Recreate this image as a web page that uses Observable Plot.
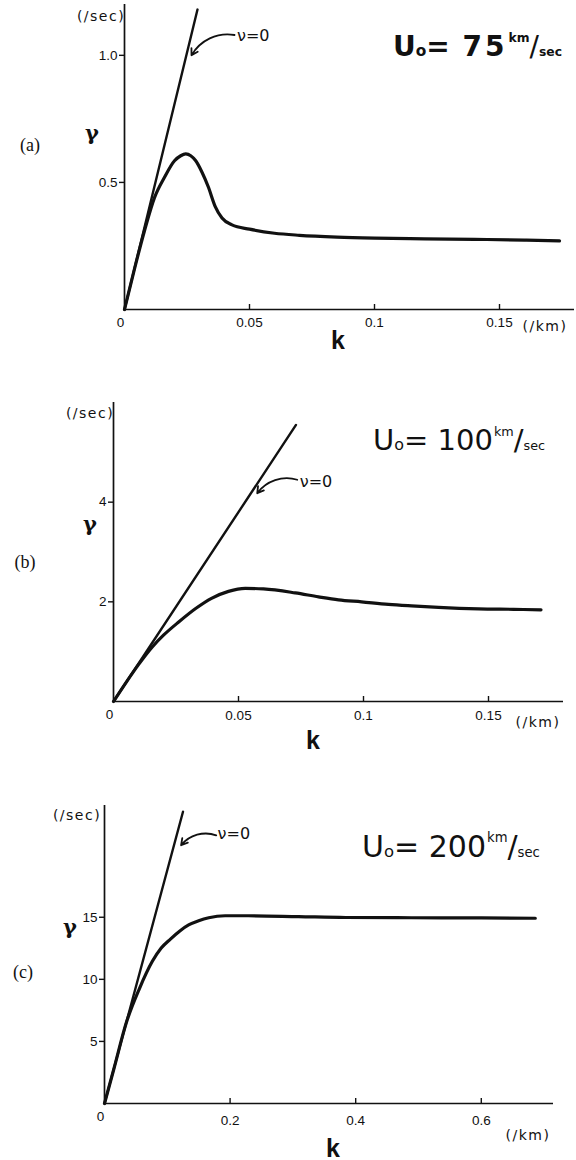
<!DOCTYPE html>
<html>
<head>
<meta charset="utf-8">
<script src="https://cdn.jsdelivr.net/npm/d3@7"></script>
<script src="https://cdn.jsdelivr.net/npm/@observablehq/plot@0.6"></script>
<style>
  html, body { margin: 0; padding: 0; background: #fff; }
  #fig { position: relative; width: 576px; height: 1160px; overflow: hidden; color: #111; }
  .panel { position: absolute; left: 0; }
  .lbl { position: absolute; white-space: nowrap; transform: translate(-50%, -50%); line-height: 1; }
  .ttl { position: absolute; white-space: nowrap; line-height: 1; font-family: "DejaVu Sans", sans-serif; }
</style>
</head>
<body>
<div id="fig"></div>
<script>
// ---------------- Panel (a): U0 = 75 km/sec ----------------
const kA = [0, 0.004, 0.008, 0.012, 0.016, 0.020, 0.0225, 0.0245, 0.0265, 0.0285, 0.031, 0.0335, 0.0363, 0.039, 0.043, 0.05, 0.06, 0.07, 0.085, 0.1, 0.12, 0.14, 0.16, 0.174];
const gammaA = [0, 0.16, 0.31, 0.44, 0.52, 0.585, 0.605, 0.612, 0.605, 0.585, 0.54, 0.483, 0.405, 0.36, 0.333, 0.316, 0.300, 0.292, 0.285, 0.281, 0.278, 0.276, 0.273, 0.27];
const nuZeroKA = [0, 0.0292];
const nuZeroGammaA = [0, 1.18];
const xTicksA = [0.05, 0.1, 0.15];
const xTickLabelsA = ["0.05", "0.1", "0.15"];
const yTicksA = [0.5, 1.0];
const yTickLabelsA = ["0.5", "1.0"];
const noteA = [{k1: 0.044, g1: 1.08, k2: 0.0268, g2: 1.0, tk: 0.045, tg: 1.075}];

// ---------------- Panel (b): U0 = 100 km/sec ----------------
const kB = [0, 0.005, 0.01, 0.0156, 0.02, 0.0262, 0.033, 0.0392, 0.046, 0.0527, 0.06, 0.0727, 0.082, 0.09, 0.0992, 0.11, 0.1192, 0.13, 0.146, 0.16, 0.171];
const gammaB = [0, 0.38, 0.74, 1.10, 1.33, 1.60, 1.87, 2.07, 2.21, 2.27, 2.26, 2.18, 2.10, 2.04, 2.00, 1.95, 1.92, 1.89, 1.86, 1.85, 1.84];
const nuZeroKB = [0, 0.073];
const nuZeroGammaB = [0, 5.55];
const xTicksB = [0.05, 0.1, 0.15];
const xTickLabelsB = ["0.05", "0.1", "0.15"];
const yTicksB = [2, 4];
const yTickLabelsB = ["2", "4"];
const noteB = [{k1: 0.0735, g1: 4.45, k2: 0.0575, g2: 4.18, tk: 0.0745, tg: 4.4}];

// ---------------- Panel (c): U0 = 200 km/sec ----------------
const kC = [0, 0.015, 0.0347, 0.0555, 0.0762, 0.09, 0.105, 0.12, 0.134, 0.15, 0.166, 0.192, 0.229, 0.309, 0.384, 0.489, 0.6, 0.686];
const gammaC = [0, 2.8, 6.5, 9.24, 11.45, 12.5, 13.24, 13.9, 14.38, 14.72, 14.96, 15.12, 15.12, 15.05, 14.98, 14.96, 14.95, 14.92];
const nuZeroKC = [0, 0.125];
const nuZeroGammaC = [0, 23.5];
const xTicksC = [0.2, 0.4, 0.6];
const xTickLabelsC = ["0.2", "0.4", "0.6"];
const yTicksC = [5, 10, 15];
const yTickLabelsC = ["5", "10", "15"];
const noteC = [{k1: 0.178, g1: 21.6, k2: 0.122, g2: 20.8, tk: 0.18, tg: 21.7}];

const fig = document.getElementById("fig");

function panel(cfg) {
  const innerH = cfg.height - cfg.mt - cfg.mb;
  const tickLen = cfg.yMax * 5 / innerH;
  const curve = cfg.k.map((k, i) => ({k, g: cfg.g[i]}));
  const nu = cfg.nuK.map((k, i) => ({k, g: cfg.nuG[i]}));
  const chart = Plot.plot({
    width: 576,
    height: cfg.height,
    marginLeft: cfg.ml, marginRight: cfg.mr, marginTop: cfg.mt, marginBottom: cfg.mb,
    x: {domain: [0, cfg.xMax]},
    y: {domain: [0, cfg.yMax]},
    style: {fontFamily: "'Liberation Sans', Arial, sans-serif", fontSize: "13px", color: "#111", background: "transparent", overflow: "visible"},
    marks: [
      Plot.axisY({ticks: cfg.yTicks, tickSize: 5, tickPadding: 2, fontSize: 13.5,
        tickFormat: (d) => cfg.yLabels[cfg.yTicks.indexOf(d)], label: null, strokeWidth: 1.4}),
      Plot.axisX({ticks: cfg.xTicks, tickSize: 0, tickPadding: cfg.xPad, fontSize: 13.5,
        tickFormat: (d) => cfg.xLabels[cfg.xTicks.indexOf(d)], label: null}),
      Plot.ruleX(cfg.xTicks, {x: (d) => d, y1: () => 0, y2: () => tickLen, strokeWidth: 1.4, stroke: "#111"}),
      Plot.ruleY([0], {strokeWidth: 1.7, stroke: "#111"}),
      Plot.ruleX([0], {strokeWidth: 1.7, stroke: "#111"}),
      Plot.text([{k: 0, g: 0}], {x: "k", y: "g", text: () => "0", dx: -4, dy: 13, fontSize: 13.5}),
      Plot.line(nu, {x: "k", y: "g", stroke: "#111", strokeWidth: 2.4}),
      Plot.line(curve, {x: "k", y: "g", curve: "monotone-x", stroke: "#111", strokeWidth: 3.2}),
      Plot.arrow(cfg.note, {x1: "k1", y1: "g1", x2: "k2", y2: "g2", bend: -35, headLength: 6, stroke: "#111", strokeWidth: 1.8}),
      Plot.text(cfg.note, {x: "tk", y: "tg", text: () => "ν=0", textAnchor: "start", fontSize: 16,
        fontFamily: "'DejaVu Sans', sans-serif"})
    ]
  });
  const wrap = document.createElement("div");
  wrap.className = "panel";
  wrap.style.top = cfg.top + "px";
  wrap.appendChild(chart);
  fig.appendChild(wrap);
}

function label(text, x, y, css) {
  const d = document.createElement("div");
  d.className = "lbl";
  d.textContent = text;
  d.style.left = x + "px";
  d.style.top = y + "px";
  d.style.cssText += css;
  fig.appendChild(d);
}

function title(left, baseline, fs, num, weight, ls) {
  const d = document.createElement("div");
  d.className = "ttl";
  d.style.left = left + "px";
  d.style.top = (baseline - 0.846 * fs) + "px";
  d.style.fontSize = fs + "px";
  d.style.fontWeight = weight;
  d.innerHTML =
    `U<span style="font-size:${fs * 0.55}px">o</span>=` +
    `<span style="letter-spacing:${ls}px"> ${num}</span>` +
    `<span style="font-size:${fs * 0.44}px;position:relative;top:${-fs * 0.5}px;margin-left:1px">km</span>` +
    `<span style="font-weight:normal">/</span>` +
    `<span style="font-size:${fs * 0.44}px">sec</span>`;
  fig.appendChild(d);
}

panel({top: 0, height: 355, ml: 124, mr: 2, mt: 4, mb: 46, xMax: 0.18, yMax: 1.2, xPad: 8,
  k: kA, g: gammaA, nuK: nuZeroKA, nuG: nuZeroGammaA,
  xTicks: xTicksA, xLabels: xTickLabelsA, yTicks: yTicksA, yLabels: yTickLabelsA, note: noteA});
panel({top: 355, height: 405, ml: 113, mr: 13, mt: 47, mb: 59, xMax: 0.18, yMax: 6, xPad: 9,
  k: kB, g: gammaB, nuK: nuZeroKB, nuG: nuZeroGammaB,
  xTicks: xTicksB, xLabels: xTickLabelsB, yTicks: yTicksB, yLabels: yTickLabelsB, note: noteB});
panel({top: 760, height: 400, ml: 104, mr: 23, mt: 45, mb: 57, xMax: 0.715, yMax: 24, xPad: 12,
  k: kC, g: gammaC, nuK: nuZeroKC, nuG: nuZeroGammaC,
  xTicks: xTicksC, xLabels: xTickLabelsC, yTicks: yTicksC, yLabels: yTickLabelsC, note: noteC});

const serif = "font-family:'Liberation Serif','DejaVu Serif',serif;font-size:18px;";
const unit = "font-family:'DejaVu Sans',sans-serif;font-size:14px;letter-spacing:1.5px;";
const gam = "font-family:'DejaVu Serif',serif;font-weight:bold;font-size:21px;";
const kk = "font-family:'Liberation Sans',Arial,sans-serif;font-weight:bold;font-size:25px;";

// panel (a)
label("(a)", 30, 145, serif);
label("(/sec)", 101, 16, unit);
label("γ", 92, 132, gam);
label("k", 338, 340, kk);
label("(/km)", 545, 326, unit);
title(393, 57, 28, "75", "bold", 3);
// panel (b)
label("(b)", 25, 562, serif);
label("(/sec)", 90, 413, unit);
label("γ", 90, 523, gam);
label("k", 313, 740, kk);
label("(/km)", 538, 722, unit);
title(373, 451, 29, "100", "normal", 0);
// panel (c)
label("(c)", 23, 972, serif);
label("(/sec)", 77, 815, unit);
label("γ", 70, 926, gam);
label("k", 333, 1148, kk);
label("(/km)", 528, 1135, unit);
title(362, 857, 30, "200", "normal", 0);
</script>
</body>
</html>
